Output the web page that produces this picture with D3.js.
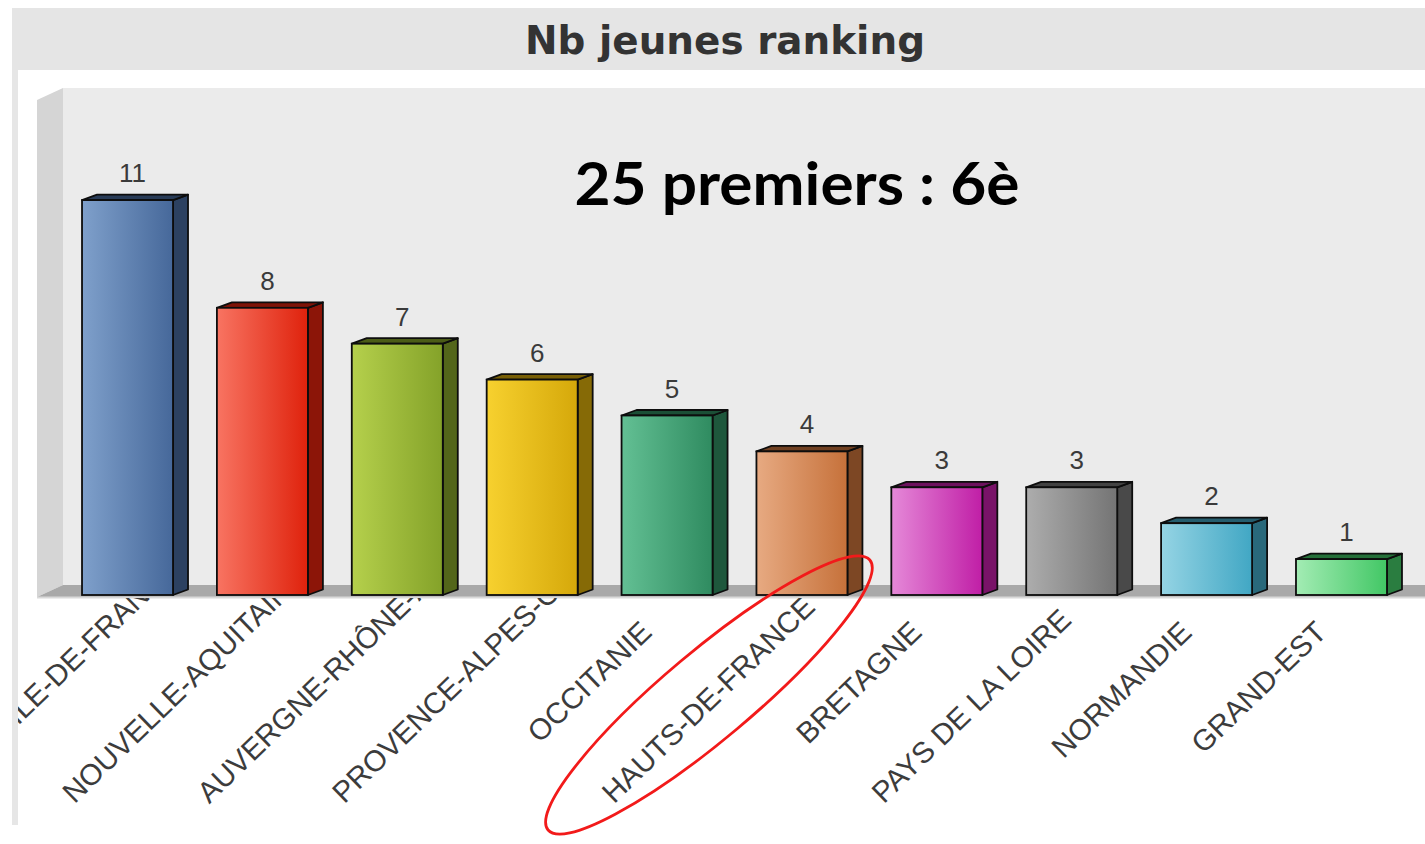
<!DOCTYPE html>
<html lang="fr">
<head>
<meta charset="UTF-8">
<title>Nb jeunes ranking</title>
<script src="https://cdn.jsdelivr.net/npm/d3@7/dist/d3.min.js"></script>
<style>
  html, body { margin: 0; padding: 0; background: #ffffff; }
  svg { display: block; }
</style>
</head>
<body>
<script>
    // data
    var regions = ["ÎLE-DE-FRANCE", "NOUVELLE-AQUITAINE", "AUVERGNE-RHÔNE-ALPES",
        "PROVENCE-ALPES-CÔTE D'AZUR", "OCCITANIE", "HAUTS-DE-FRANCE", "BRETAGNE",
        "PAYS DE LA LOIRE", "NORMANDIE", "GRAND-EST"];
    var nbJeunes = [11, 8, 7, 6, 5, 4, 3, 3, 2, 1];
    var chartTitle = "Nb jeunes ranking";
    var note = "25 premiers : 6è";
    var highlighted = "HAUTS-DE-FRANCE";

    // bar palette: light edge, dark edge of the front face
    var lightCol = ["#7fa0cb", "#f87462", "#b5d04c", "#f7d12f", "#63c094",
        "#e7aa82", "#e589d8", "#adadad", "#95d4e4", "#a3ecb4"];
    var darkCol = ["#46689a", "#df220c", "#84a229", "#d5a80a", "#2f8b60",
        "#c6713a", "#c01ea6", "#747474", "#41a7c4", "#42c765"];

    var W = 1425, H = 844;
    var wallLeft = 63, wallTop = 88, sideLeft = 37;
    var floorTop = 585, base = 595;
    var depthX = 15, depthY = -5.5;
    var yMax = 14;

    var svg = d3.select("body").append("svg")
        .attr("width", W)
        .attr("height", H);

    var defs = svg.append("defs");

    // frame
    svg.append("rect").attr("x", 12).attr("y", 8).attr("width", 6).attr("height", 817)
        .attr("fill", "#e6e6e6");
    svg.append("rect").attr("x", 12).attr("y", 8).attr("width", W - 12).attr("height", 62)
        .attr("fill", "#e5e5e5");
    svg.append("text")
        .attr("x", 725).attr("y", 54)
        .attr("text-anchor", "middle")
        .attr("font-family", "DejaVu Sans, Verdana, sans-serif")
        .attr("font-weight", "bold")
        .attr("font-size", 39)
        .attr("textLength", 400)
        .attr("lengthAdjust", "spacingAndGlyphs")
        .attr("fill", "#333333")
        .text(chartTitle);

    var x = d3.scaleBand()
        .domain(regions)
        .range([wallLeft, 1406])
        .paddingInner(0.3254)
        .paddingOuter(0.141);

    var y = d3.scaleLinear()
        .domain([0, yMax])
        .range([base, base - yMax * 35.9]);

    // 3D walls and floor
    svg.append("rect")
        .attr("x", wallLeft).attr("y", wallTop)
        .attr("width", W - wallLeft).attr("height", floorTop - wallTop)
        .attr("fill", "#ebebeb");
    svg.append("polygon")
        .attr("points", [[sideLeft, wallTop + 12], [wallLeft, wallTop], [wallLeft, floorTop], [sideLeft, base + 2]].join(" "))
        .attr("fill", "#d5d5d5");
    svg.append("polygon")
        .attr("points", [[sideLeft, base + 2], [wallLeft, floorTop], [W, floorTop], [W, base + 2]].join(" "))
        .attr("fill", "#a9a9a9");
    svg.append("rect")
        .attr("x", sideLeft).attr("y", base + 1.5).attr("width", W - sideLeft).attr("height", 2)
        .attr("fill", "#d9d9d9");

    var data = regions.map(function (r, i) {
        return {name: r, value: nbJeunes[i], i: i};
    });

    data.forEach(function (d) {
        var g = defs.append("linearGradient")
            .attr("id", "grad" + d.i)
            .attr("x1", "0%").attr("x2", "100%").attr("y1", "0%").attr("y2", "0%");
        g.append("stop").attr("offset", "0%").attr("stop-color", lightCol[d.i]);
        g.append("stop").attr("offset", "100%").attr("stop-color", darkCol[d.i]);
    });

    var bars = svg.selectAll("g.bar")
        .data(data)
        .enter()
        .append("g")
        .attr("class", "bar");

    bars.append("polygon")
        .attr("points", function (d) {
            var x1 = x(d.name) + x.bandwidth(), t = y(d.value);
            return [[x1, t], [x1 + depthX, t + depthY], [x1 + depthX, base + depthY], [x1, base]].join(" ");
        })
        .attr("fill", function (d) { return d3.color(darkCol[d.i]).darker(1.3); })
        .attr("stroke", "#0d0d0d")
        .attr("stroke-width", 1.8)
        .attr("stroke-linejoin", "round");

    bars.append("polygon")
        .attr("points", function (d) {
            var x0 = x(d.name), x1 = x0 + x.bandwidth(), t = y(d.value);
            return [[x0, t], [x0 + depthX, t + depthY], [x1 + depthX, t + depthY], [x1, t]].join(" ");
        })
        .attr("fill", function (d) { return d3.color(darkCol[d.i]).darker(1.6); })
        .attr("stroke", "#0d0d0d")
        .attr("stroke-width", 1.8)
        .attr("stroke-linejoin", "round");

    bars.append("rect")
        .attr("x", function (d) { return x(d.name); })
        .attr("y", function (d) { return y(d.value); })
        .attr("width", x.bandwidth())
        .attr("height", function (d) { return base - y(d.value); })
        .attr("fill", function (d) { return "url(#grad" + d.i + ")"; })
        .attr("stroke", "#0d0d0d")
        .attr("stroke-width", 1.8);

    bars.append("text")
        .attr("x", function (d) { return x(d.name) + x.bandwidth() / 2 + 5; })
        .attr("y", function (d) { return y(d.value) - 18; })
        .attr("text-anchor", "middle")
        .attr("font-family", "Liberation Sans, Arial, sans-serif")
        .attr("font-size", 26)
        .attr("fill", "#3a3a3a")
        .text(function (d) { return d.value; });

    // rotated category labels, clipped below the floor;
    // short names sit near the axis, long ones start at the bottom of the label band
    defs.append("clipPath").attr("id", "labelClip")
        .append("rect").attr("x", 18).attr("y", 598).attr("width", W).attr("height", H);

    var angle = 44;
    var labels = svg.append("g").attr("clip-path", "url(#labelClip)");
    labels.selectAll("text")
        .data(data)
        .enter()
        .append("text")
        .attr("font-family", "Liberation Sans, Arial, sans-serif")
        .attr("font-size", 29.5)
        .attr("fill", "#3c3c3c")
        .text(function (d) { return d.name; })
        .attr("transform", function (d) {
            var L = this.getComputedTextLength();
            var ax = x(d.name) + x.bandwidth() / 2 + depthX / 2 + 6, ay = base + 8;
            var dist = (L + 41 > 240) ? 285 : L + 41;
            // do not start beyond the panel edge
            dist = Math.min(dist, (ax - 18) / Math.SQRT1_2);
            var sx = ax - dist * Math.SQRT1_2, sy = ay + dist * Math.SQRT1_2;
            return "translate(" + sx + "," + sy + ") rotate(" + (-angle) + ")";
        });

    // annotation
    svg.append("text")
        .attr("x", 797).attr("y", 205)
        .attr("text-anchor", "middle")
        .attr("font-family", "Lato, Open Sans, sans-serif")
        .attr("font-weight", "bold")
        .attr("font-size", 60)
        .attr("textLength", 445)
        .attr("lengthAdjust", "spacingAndGlyphs")
        .attr("fill", "#000000")
        .text(note);

    var hx = x(highlighted) + x.bandwidth() / 2 - 93;
    svg.append("ellipse")
        .attr("cx", 0).attr("cy", 0)
        .attr("rx", 210).attr("ry", 44)
        .attr("transform", "translate(" + hx + ",695) rotate(-40)")
        .attr("fill", "none")
        .attr("stroke", "#f21a1a")
        .attr("stroke-width", 2.8);
</script>
</body>
</html>
